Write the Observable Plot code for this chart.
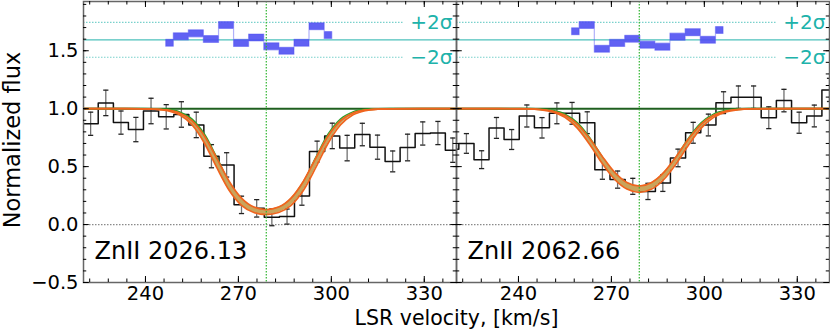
<!DOCTYPE html>
<html><head><meta charset="utf-8">
<script src="https://cdn.jsdelivr.net/npm/d3@7"></script>
<script src="https://cdn.jsdelivr.net/npm/@observablehq/plot@0.6"></script>
<style>body{margin:0;background:#fff;} #chart{width:830px;height:332px;}</style>
</head><body><div id="chart"></div>
<script>
// ---------------- data ----------------
const panels = ["ZnII 2026.13", "ZnII 2062.66"];

const velA  = [217.4, 222.3, 227.2, 232.1, 236.9, 241.8, 246.7, 251.6, 256.4, 261.3, 266.2, 271.0, 275.9, 280.8, 285.7, 290.5, 295.4, 300.3, 305.1, 310.0, 314.9, 319.8, 324.6, 329.5, 334.4, 339.2, 344.1];
const fluxA = [0.87, 0.87, 1.05, 0.88, 0.82, 0.98, 0.93, 0.95, 0.86, 0.59, 0.515, 0.17, 0.14, 0.063, 0.069, 0.247, 0.63, 0.765, 0.66, 0.777, 0.668, 0.545, 0.665, 0.786, 0.79, 0.642, 0.70];
const errA  = [0.10, 0.10, 0.11, 0.10, 0.105, 0.11, 0.105, 0.11, 0.11, 0.10, 0.105, 0.075, 0.075, 0.073, 0.065, 0.08, 0.09, 0.11, 0.11, 0.097, 0.104, 0.09, 0.115, 0.10, 0.10, 0.105, 0.10];

const velB  = [218.3, 223.2, 228.1, 232.9, 237.8, 242.7, 247.6, 252.4, 257.3, 262.2, 267.1, 272.0, 276.9, 281.8, 286.6, 291.5, 296.4, 301.3, 306.2, 311.0, 315.9, 320.8, 325.7, 330.6, 335.5, 340.4];
const fluxB = [0.65, 0.70, 0.56, 0.834, 0.734, 0.937, 0.835, 0.96, 0.96, 0.879, 0.474, 0.388, 0.33, 0.286, 0.358, 0.575, 0.792, 0.859, 1.052, 1.099, 1.099, 0.922, 1.07, 0.879, 0.937, 1.162];
const errB  = [0.10, 0.085, 0.077, 0.09, 0.086, 0.095, 0.088, 0.09, 0.094, 0.094, 0.083, 0.074, 0.069, 0.07, 0.072, 0.076, 0.09, 0.094, 0.094, 0.097, 0.097, 0.094, 0.097, 0.091, 0.094, 0.10];

const residVelA = [246.7, 251.6, 256.4, 261.3, 266.2, 271.0, 275.9, 280.8, 285.7, 290.5, 295.4, 300.3];
const residA    = [1.565, 1.620, 1.646, 1.597, 1.718, 1.563, 1.610, 1.534, 1.496, 1.565, 1.707, 1.632];
const residVelB = [257.3, 262.2, 267.1, 272.0, 276.9, 281.8, 286.6, 291.5, 296.4, 301.3, 306.2];
const residB    = [1.664, 1.718, 1.513, 1.563, 1.599, 1.548, 1.531, 1.617, 1.656, 1.591, 1.675];

const modelVel    = [220, 229, 239, 243, 247, 251, 255, 259, 263, 267, 271, 275, 279, 283, 287, 291, 295, 299, 303, 307, 311, 315, 319, 329, 341];
const modelUpperA = [1, 1, 0.999, 0.997, 0.989, 0.963, 0.897, 0.766, 0.574, 0.374, 0.228, 0.151, 0.129, 0.151, 0.228, 0.374, 0.574, 0.766, 0.897, 0.963, 0.989, 0.997, 0.999, 1, 1];
const modelLowerA = [1, 1, 0.999, 0.995, 0.983, 0.947, 0.861, 0.704, 0.493, 0.296, 0.166, 0.104, 0.086, 0.104, 0.166, 0.296, 0.493, 0.704, 0.861, 0.947, 0.983, 0.995, 0.999, 1, 1];
const modelGreenA = [1, 1, 1, 0.998, 0.992, 0.970, 0.909, 0.778, 0.576, 0.360, 0.205, 0.127, 0.105, 0.127, 0.205, 0.360, 0.576, 0.778, 0.909, 0.970, 0.992, 0.998, 1, 1, 1];
const modelUpperB = [1, 1, 1, 0.999, 0.994, 0.980, 0.943, 0.867, 0.742, 0.590, 0.452, 0.363, 0.333, 0.363, 0.452, 0.590, 0.742, 0.867, 0.943, 0.980, 0.994, 0.999, 1, 1, 1];
const modelLowerB = [1, 1, 0.999, 0.998, 0.991, 0.972, 0.925, 0.832, 0.691, 0.529, 0.391, 0.306, 0.278, 0.306, 0.391, 0.529, 0.691, 0.832, 0.925, 0.972, 0.991, 0.998, 0.999, 1, 1];
const modelGreenB = [1, 1, 1, 0.999, 0.996, 0.984, 0.951, 0.876, 0.747, 0.583, 0.433, 0.336, 0.304, 0.336, 0.433, 0.583, 0.747, 0.876, 0.951, 0.984, 0.996, 0.999, 1, 1, 1];

const lineCenter = [279];
const continuum = [1];
const residZero = [1.594];
const residSigma = [1.444, 1.744];
const sigmaLabels = [{y: 1.744, t: "+2\u03c3"}, {y: 1.444, t: "\u22122\u03c3"}];

const xMajor = [240, 270, 300, 330];
const yMajor = [-0.5, 0, 0.5, 1.0, 1.5];

// ---------------- layout ----------------
const W = 830, H = 332, mL = 83, mR = 0.5, mT = 1, mB = 50;
const innerH = H - mT - mB;
const panelW = (W - mL - mR) / 2;
const xMinor = d3.range(222, 341, 6);
const yMinor = d3.range(-5, 20).map(d => d / 10);
const teal = "#20b2aa";

const data = [
  ...velA.map((v, i) => ({panel: panels[0], v, f: fluxA[i], e: errA[i]})),
  ...velB.map((v, i) => ({panel: panels[1], v, f: fluxB[i], e: errB[i]}))
];
const model = [
  ...modelVel.map((v, i) => ({panel: panels[0], v, u: modelUpperA[i], l: modelLowerA[i], g: modelGreenA[i]})),
  ...modelVel.map((v, i) => ({panel: panels[1], v, u: modelUpperB[i], l: modelLowerB[i], g: modelGreenB[i]}))
];
const resid = [
  ...residVelA.map((v, i) => ({panel: panels[0], v, r: residA[i]})),
  ...residVelB.map((v, i) => ({panel: panels[1], v, r: residB[i]}))
];
const residHalf = 0.03;
const capSymbol = {draw(ctx) { ctx.moveTo(-2.6, 0); ctx.lineTo(2.6, 0); }};

const chart = Plot.plot({
  width: W, height: H,
  marginLeft: mL, marginRight: mR, marginTop: mT, marginBottom: mB,
  style: {fontFamily: "DejaVu Sans", fontSize: "19.5px", color: "#000", background: "#fff"},
  fx: {domain: panels, padding: 0, axis: null},
  x: {domain: [220, 340.4]},
  y: {domain: [-0.5, 1.925]},
  marks: [
    Plot.ruleY([0], {stroke: "#8a8a8a", strokeWidth: 1.2, strokeDasharray: "1.5,1.5"}),
    Plot.ruleY(residZero, {stroke: teal, strokeOpacity: 0.8, strokeWidth: 1.2}),
    Plot.ruleY(residSigma, {x1: 220, x2: 323.5, stroke: teal, strokeOpacity: 0.6, strokeWidth: 1.2, strokeDasharray: "1.5,1.5"}),
    // data histogram + errors
    Plot.ruleX(data, {x: "v", y1: d => d.f - d.e, y2: d => d.f + d.e, fx: "panel", stroke: "#707070", strokeWidth: 1.3, clip: true}),
    Plot.dot(data, {x: "v", y: d => d.f - d.e, fx: "panel", symbol: capSymbol, fill: "none", stroke: "#222", strokeWidth: 1.3, clip: true}),
    Plot.dot(data, {x: "v", y: d => d.f + d.e, fx: "panel", symbol: capSymbol, fill: "none", stroke: "#222", strokeWidth: 1.3, clip: true}),
    Plot.line(data, {x: "v", y: "f", fx: "panel", curve: "step", stroke: "#111", strokeWidth: 1.5, clip: true}),
    // continuum and models
    Plot.ruleY(continuum, {stroke: "#1f5f1f", strokeWidth: 2}),
    Plot.line(model, {x: "v", y: "g", fx: "panel", curve: "monotone-x", stroke: "#2ca02c", strokeWidth: 2, clip: true}),
    Plot.areaY(model, {x: "v", y1: "l", y2: "u", fx: "panel", curve: "monotone-x", fill: "#c9a45c", clip: true}),
    Plot.line(model, {x: "v", y: "u", fx: "panel", curve: "monotone-x", stroke: "#f0641e", strokeWidth: 1.7, clip: true}),
    Plot.line(model, {x: "v", y: "l", fx: "panel", curve: "monotone-x", stroke: "#f0641e", strokeWidth: 1.7, clip: true}),
    // residuals
    Plot.areaY(resid, {x: "v", y1: d => d.r - residHalf, y2: d => d.r + residHalf, fx: "panel", curve: "step", fill: "#5050f2", fillOpacity: 0.9, stroke: "#5050f2", strokeOpacity: 0.45, strokeWidth: 1.2}),
    Plot.ruleX(lineCenter, {stroke: "#2fb52f", strokeWidth: 1.2, strokeDasharray: "1.5,1.5"}),
    // frame and inward ticks
    Plot.frame({stroke: "#666", strokeWidth: 1.5}),
    Plot.tickX(xMinor, {x: d => d, insetTop: innerH - 3.5, stroke: "#000"}),
    Plot.tickX(xMinor, {x: d => d, insetBottom: innerH - 3.5, stroke: "#000"}),
    Plot.tickX(xMajor, {x: d => d, insetTop: innerH - 6, stroke: "#000"}),
    Plot.tickX(xMajor, {x: d => d, insetBottom: innerH - 6, stroke: "#000"}),
    Plot.tickY(yMinor, {y: d => d, insetRight: panelW - 3.5, stroke: "#000"}),
    Plot.tickY(yMinor, {y: d => d, insetLeft: panelW - 3.5, stroke: "#000"}),
    Plot.tickY(yMajor, {y: d => d, insetRight: panelW - 6, stroke: "#000"}),
    Plot.tickY(yMajor, {y: d => d, insetLeft: panelW - 6, stroke: "#000"}),
    Plot.axisX({ticks: xMajor, tickSize: 0, tickPadding: 4, label: null, tickFormat: d => String(d)}),
    Plot.axisY({ticks: yMajor, tickSize: 0, tickPadding: 5, label: null, tickFormat: d3.format(".1f")}),
    // labels
    Plot.text(panels.map(p => ({panel: p})), {fx: "panel", text: "panel", frameAnchor: "bottom-left", textAnchor: "start", lineAnchor: "middle", dx: 11, dy: -31, fontSize: 24, fill: "#000"}),
    Plot.text(sigmaLabels, {y: "y", text: "t", frameAnchor: "right", textAnchor: "end", lineAnchor: "middle", dx: -4, fontSize: 20, fill: teal})
  ]
});

const svg = d3.select(chart);
svg.append("text")
  .attr("transform", "translate(20,140) rotate(-90)")
  .attr("text-anchor", "middle")
  .attr("font-family", "DejaVu Sans").attr("font-size", 22.5).attr("fill", "#000")
  .text("Normalized flux");
svg.append("text")
  .attr("x", 456.5).attr("y", 324.5)
  .attr("text-anchor", "middle")
  .attr("font-family", "DejaVu Sans").attr("font-size", 20.5).attr("fill", "#000")
  .text("LSR velocity, [km/s]");

document.getElementById("chart").appendChild(chart);
</script>
</body></html>
